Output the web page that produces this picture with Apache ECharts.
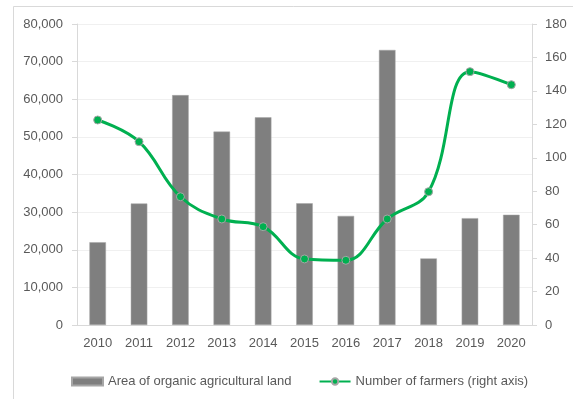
<!DOCTYPE html>
<html><head><meta charset="utf-8">
<script src="https://cdn.jsdelivr.net/npm/echarts@6/dist/echarts.min.js"></script>
<style>html,body{margin:0;padding:0;background:#fff}#c{width:573px;height:399px}</style>
</head><body><div id="c"></div>
<script>
const years = ['2010','2011','2012','2013','2014','2015','2016','2017','2018','2019','2020'];
const areaValues = [22000, 32300, 61100, 51400, 55200, 32350, 29000, 73100, 17700, 28400, 29300];
const farmerValues = [122.6, 109.6, 76.7, 63.4, 58.8, 39.5, 38.7, 63.4, 79.7, 151.5, 143.7];
const leftTicks = {min: 0, max: 80000, interval: 10000};
const rightTicks = {min: 0, max: 180, interval: 20};
const areaName = 'Area of organic agricultural land';
const farmerName = 'Number of farmers (right axis)';

const font = 'Liberation Sans';
const chart = echarts.init(document.getElementById('c'), null, {renderer: 'canvas'});
chart.setOption({
  animation: false,
  backgroundColor: '#fff',
  textStyle: {fontFamily: font},
  graphic: [{type: 'rect', shape: {x: 13.5, y: 6.5, width: 600, height: 500}, style: {fill: 'none', stroke: '#d9d9d9', lineWidth: 1}, silent: true}],
  grid: {left: 77, right: 41, top: 24, bottom: 74, containLabel: false},
  legend: {
    top: 370, left: 66, itemGap: 27,
    itemWidth: 31, itemHeight: 8,
    textStyle: {color: '#595959', fontSize: 13, fontFamily: font},
    data: [{name: areaName, icon: 'rect'}, {name: farmerName}]
  },
  xAxis: {
    type: 'category', data: years,
    axisLine: {lineStyle: {color: '#d9d9d9'}},
    axisTick: {alignWithLabel: true, length: 4, lineStyle: {color: '#d9d9d9'}},
    axisLabel: {color: '#595959', fontSize: 13, margin: 12, fontFamily: font}
  },
  yAxis: [{
    type: 'value', min: leftTicks.min, max: leftTicks.max, interval: leftTicks.interval,
    axisLine: {show: true, lineStyle: {color: '#d9d9d9'}},
    axisTick: {show: true, length: 5, lineStyle: {color: '#d9d9d9'}},
    splitLine: {lineStyle: {color: '#f0f0f0'}},
    axisLabel: {color: '#595959', fontSize: 13, margin: 14, fontFamily: font,
      formatter: v => v.toLocaleString('en-US')}
  }, {
    type: 'value', min: rightTicks.min, max: rightTicks.max, interval: rightTicks.interval,
    axisLine: {show: true, lineStyle: {color: '#d9d9d9'}},
    axisTick: {show: true, length: 5, lineStyle: {color: '#d9d9d9'}},
    splitLine: {show: false},
    axisLabel: {color: '#595959', fontSize: 13, margin: 13, fontFamily: font}
  }],
  series: [{
    name: areaName, type: 'bar', data: areaValues, yAxisIndex: 0,
    barCategoryGap: '60%',
    itemStyle: {color: '#7f7f7f', borderColor: '#a6a6a6', borderWidth: 0.5}
  }, {
    name: farmerName, type: 'line', data: farmerValues, yAxisIndex: 1,
    smooth: 0.4, symbol: 'circle', symbolSize: 8,
    lineStyle: {color: '#00b050', width: 3},
    itemStyle: {color: '#00b050', borderColor: '#a6a6a6', borderWidth: 1}
  }]
});
</script></body></html>
